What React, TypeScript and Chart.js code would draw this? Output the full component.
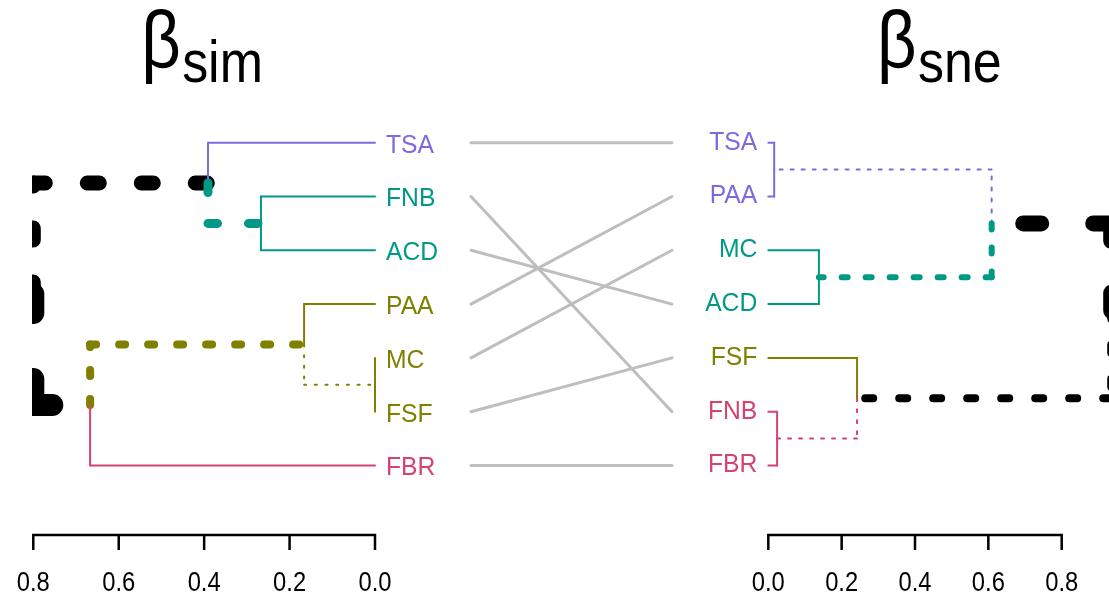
import React, { useEffect, useRef } from 'react';
import { Chart, registerables } from 'chart.js';
Chart.register(...registerables);

// ---------------- data ----------------
const leavesLeft = ['TSA', 'FNB', 'ACD', 'PAA', 'MC', 'FSF', 'FBR'];
const leavesRight = ['TSA', 'PAA', 'MC', 'ACD', 'FSF', 'FNB', 'FBR'];
// hclust-style merges: negative = leaf (1-based position), positive = earlier merge row
const mergeLeft = [[-2, -3], [-1, 1], [-5, -6], [-4, 3], [4, -7], [2, 5]];
const heightLeft = [0.267, 0.391, 0.0, 0.166, 0.667, 0.8];
const mergeRight = [[-1, -2], [-3, -4], [1, 2], [-6, -7], [-5, 4], [3, 5]];
const heightRight = [0.016, 0.138, 0.609, 0.024, 0.242, 0.935];
const axisTicks = [0, 0.2, 0.4, 0.6, 0.8];
const titleLeft = ['β', 'sim'];
const titleRight = ['β', 'sne'];

// ---------------- styles ----------------
const COL = { purple: '#7B6CDE', teal: '#009985', olive: '#7F7F00', pink: '#D4446E', black: '#000000' };
const leafColLeft = [COL.purple, COL.teal, COL.teal, COL.olive, COL.olive, COL.olive, COL.pink];
const leafColRight = [COL.purple, COL.purple, COL.teal, COL.teal, COL.olive, COL.pink, COL.pink];
type St = { c: string; w: number; d: number[] };
const solid = (c: string): St => ({ c, w: 2, d: [] });
const edgeStyleLeft: St[][] = [
  [solid(COL.teal), solid(COL.teal)],
  [solid(COL.purple), { c: COL.teal, w: 9, d: [9.5, 31] }],
  [solid(COL.olive), solid(COL.olive)],
  [solid(COL.olive), { c: COL.olive, w: 2, d: [2, 8.7] }],
  [{ c: COL.olive, w: 8, d: [6, 23] }, solid(COL.pink)],
  [{ c: COL.black, w: 15, d: [12, 42] }, { c: COL.black, w: 22, d: [19, 66] }],
];
const edgeStyleRight: St[][] = [
  [solid(COL.purple), solid(COL.purple)],
  [solid(COL.teal), solid(COL.teal)],
  [{ c: COL.purple, w: 2, d: [3, 8] }, { c: COL.teal, w: 6, d: [6, 18] }],
  [solid(COL.pink), solid(COL.pink)],
  [solid(COL.olive), { c: COL.pink, w: 2, d: [3, 8] }],
  [{ c: COL.black, w: 16, d: [18, 52] }, { c: COL.black, w: 8, d: [8, 26] }],
];

const SANS = '"Liberation Sans", Arial, sans-serif';

// pixel layout of the scales
const AREA = { left: 32, right: 1109, top: 0, bottom: 596 };

function linRange(v0: number, p0: number, v1: number, p1: number, lo: number, hi: number) {
  const k = (p1 - p0) / (v1 - v0);
  return { a: v0 + (lo - p0) / k, b: v0 + (hi - p0) / k };
}

type Seg = { pts: { x: number; y: number }[]; st: St; xAxisID: string };

function buildSegments(merge: number[][], height: number[], styles: St[][], xAxisID: string): Seg[] {
  const n = merge.length;
  const nodeY: number[] = new Array(n);
  const yOf = (id: number) => (id < 0 ? -id : nodeY[id - 1]);
  const hOf = (id: number) => (id < 0 ? 0 : height[id - 1]);
  for (let k = 0; k < n; k++) nodeY[k] = (yOf(merge[k][0]) + yOf(merge[k][1])) / 2;
  const segs: Seg[] = [];
  const visit = (k: number) => {
    const hp = height[k];
    const yp = nodeY[k];
    merge[k].forEach((child, j) => {
      const st = styles[k][j];
      const yc = yOf(child);
      const hc = hOf(child);
      segs.push({ pts: [{ x: hp, y: yp }, { x: hp, y: yc }], st, xAxisID });
      if (hp !== hc) segs.push({ pts: [{ x: hp, y: yc }, { x: hc, y: yc }], st, xAxisID });
      if (child > 0) visit(child - 1);
    });
  };
  visit(n - 1);
  return segs;
}

function drawText(ctx: CanvasRenderingContext2D, t: string, x: number, y: number, align: CanvasTextAlign, font: string, color: string, sx: number) {
  ctx.save();
  ctx.translate(x, y);
  ctx.scale(sx, 1);
  ctx.font = font;
  ctx.fillStyle = color;
  ctx.textAlign = align;
  ctx.textBaseline = 'alphabetic';
  ctx.fillText(t, 0, 0);
  ctx.restore();
}

const textPlugin = {
  id: 'tangleText',
  afterDraw(chart: any) {
    const ctx: CanvasRenderingContext2D = chart.ctx;
    const xL = chart.scales.xL;
    const xR = chart.scales.xR;
    const y = chart.scales.y;
    const lab = '26px ' + SANS;
    leavesLeft.forEach((name, i) => {
      drawText(ctx, name, xL.getPixelForValue(0) + 11, y.getPixelForValue(i + 1) + 9.8, 'left', lab, leafColLeft[i], 0.95);
    });
    leavesRight.forEach((name, i) => {
      drawText(ctx, name, xR.getPixelForValue(0) - 11, y.getPixelForValue(i + 1) + 6.8, 'right', lab, leafColRight[i], 0.95);
    });
    // axes
    const axY = 535;
    const tickEnd = 550;
    const drawAxis = (sc: any) => {
      const p0 = sc.getPixelForValue(axisTicks[0]);
      const p1 = sc.getPixelForValue(axisTicks[axisTicks.length - 1]);
      ctx.save();
      ctx.strokeStyle = '#000';
      ctx.lineWidth = 2.5;
      ctx.lineCap = 'butt';
      ctx.beginPath();
      ctx.moveTo(p0, axY);
      ctx.lineTo(p1, axY);
      axisTicks.forEach((v) => {
        const p = sc.getPixelForValue(v);
        ctx.moveTo(p, axY - 1.2);
        ctx.lineTo(p, tickEnd);
      });
      ctx.stroke();
      ctx.restore();
      axisTicks.forEach((v) => {
        drawText(ctx, v.toFixed(1), sc.getPixelForValue(v), 591, 'center', '27px ' + SANS, '#000', 0.88);
      });
    };
    drawAxis(xL);
    drawAxis(xR);
    // titles
    const drawTitle = (parts: string[], cx: number) => {
      drawText(ctx, parts[0], cx - 63, 66.5, 'left', '80px ' + SANS, '#000', 0.86);
      drawText(ctx, parts[1], cx - 22, 82, 'left', '59px ' + SANS, '#000', 0.88);
    };
    drawTitle(titleLeft, (xL.getPixelForValue(0.8) + xL.getPixelForValue(0)) / 2);
    drawTitle(titleRight, 940);
  },
};

export default function App() {
  const ref = useRef<HTMLCanvasElement>(null);
  useEffect(() => {
    const segs: Seg[] = [
      ...buildSegments(mergeLeft, heightLeft, edgeStyleLeft, 'xL'),
      ...buildSegments(mergeRight, heightRight, edgeStyleRight, 'xR'),
    ];
    const connectors: Seg[] = leavesLeft.map((name, i) => ({
      pts: [{ x: 0, y: i + 1 }, { x: 1, y: leavesRight.indexOf(name) + 1 }],
      st: { c: '#BEBEBE', w: 3, d: [] },
      xAxisID: 'xC',
    }));
    const all = [...connectors, ...segs];
    const datasets = all.map((s, i) => ({
      data: s.pts,
      xAxisID: s.xAxisID,
      yAxisID: 'y',
      showLine: true,
      borderColor: s.st.c,
      borderWidth: s.st.w,
      borderDash: s.st.d,
      borderCapStyle: 'round',
      borderJoinStyle: 'round',
      pointRadius: 0,
      pointHoverRadius: 0,
      fill: false,
      tension: 0,
      order: all.length - i,
    }));

    // scale ranges
    const l = linRange(0, 375, 0.8, 33.3, AREA.left, AREA.right); // a > b → reversed
    const r = linRange(0, 768.3, 0.8, 1061.7, AREA.left, AREA.right);
    const c = linRange(0, 471, 1, 672, AREA.left, AREA.right);
    const yy = linRange(1, 142.7, 7, 465.5, AREA.top, AREA.bottom);
    const hidden = { display: false, grid: { display: false }, ticks: { display: false } };

    const chart = new Chart(ref.current as HTMLCanvasElement, {
      type: 'scatter',
      data: { datasets: datasets as any },
      plugins: [textPlugin],
      options: {
        animation: false,
        responsive: false,
        devicePixelRatio: 1,
        events: [],
        layout: { padding: { left: AREA.left, right: 0, top: 0, bottom: 0 } },
        plugins: { legend: { display: false }, tooltip: { enabled: false }, title: { display: false } },
        scales: {
          xL: { type: 'linear', position: 'bottom', min: l.b, max: l.a, reverse: true, ...hidden },
          xR: { type: 'linear', position: 'bottom', min: r.a, max: r.b, ...hidden },
          xC: { type: 'linear', position: 'bottom', min: c.a, max: c.b, ...hidden },
          y: { type: 'linear', position: 'left', min: yy.a, max: yy.b, reverse: true, ...hidden },
        },
      } as any,
    });
    return () => chart.destroy();
  }, []);
  return (
    <div style={{ position: 'absolute', left: 0, top: 0, width: 1109, height: 596, background: '#fff' }}>
      <canvas ref={ref} width={1109} height={596} style={{ display: 'block', width: 1109, height: 596 }} />
    </div>
  );
}
